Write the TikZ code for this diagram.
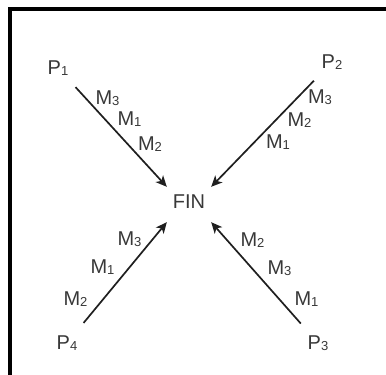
\documentclass[tikz,border=0pt]{standalone}
\usepackage{fontspec}
\setmainfont{Liberation Sans}
\usetikzlibrary{arrows.meta}
\newcommand{\lbl}[2]{#1\raisebox{-1pt}{\fontsize{13}{13}\selectfont #2}}
\begin{document}
\begin{tikzpicture}[x=1pt,y=-1pt,
  txt/.style={inner sep=0pt, text=black!78, font=\fontsize{20}{22}\selectfont},
  arr/.style={line width=1.7pt, draw=black!88, -{Stealth[length=11pt,width=10pt,inset=3pt]}, shorten <=26pt},
  frame/.style={line width=4pt}]
\useasboundingbox (0,0) rectangle (386,375);
\draw[frame] (10,375) -- (10,9) -- (386,9);

\node[txt, minimum width=44pt, text height=21pt, text depth=14pt, anchor=base] (FIN) at (189,208) {FIN};

\node[txt] (P1) at (58,68) {\lbl{P}{1}};
\node[txt] (P2) at (332,62) {\lbl{P}{2}};
\node[txt] (P3) at (318,343) {\lbl{P}{3}};
\node[txt] (P4) at (67,343) {\lbl{P}{4}};

\draw[arr] (P1.center) -- (FIN.north west);
\draw[arr] (P2.center) -- (FIN.north east);
\draw[arr] (P3.center) -- (FIN.south east);
\draw[arr] (P4.center) -- (FIN.south west);

% labels along P1
\node[txt] (a3) at (107.5,98) {\lbl{M}{3}};
\node[txt] (a1) at (129.5,119) {\lbl{M}{1}};
\node[txt] (a2) at (150,144.5) {\lbl{M}{2}};
% labels along P2
\node[txt] (b3) at (320,97.5) {\lbl{M}{3}};
\node[txt] (b2) at (299.5,120) {\lbl{M}{2}};
\node[txt] (b1) at (278,142.5) {\lbl{M}{1}};
% labels along P4
\node[txt] (d3) at (129.5,239) {\lbl{M}{3}};
\node[txt] (d1) at (102.5,267.5) {\lbl{M}{1}};
\node[txt] (d2) at (75.5,299) {\lbl{M}{2}};
% labels along P3
\node[txt] (c2) at (252.5,240) {\lbl{M}{2}};
\node[txt] (c3) at (279.5,268.5) {\lbl{M}{3}};
\node[txt] (c1) at (306.5,299) {\lbl{M}{1}};
\end{tikzpicture}
\end{document}
